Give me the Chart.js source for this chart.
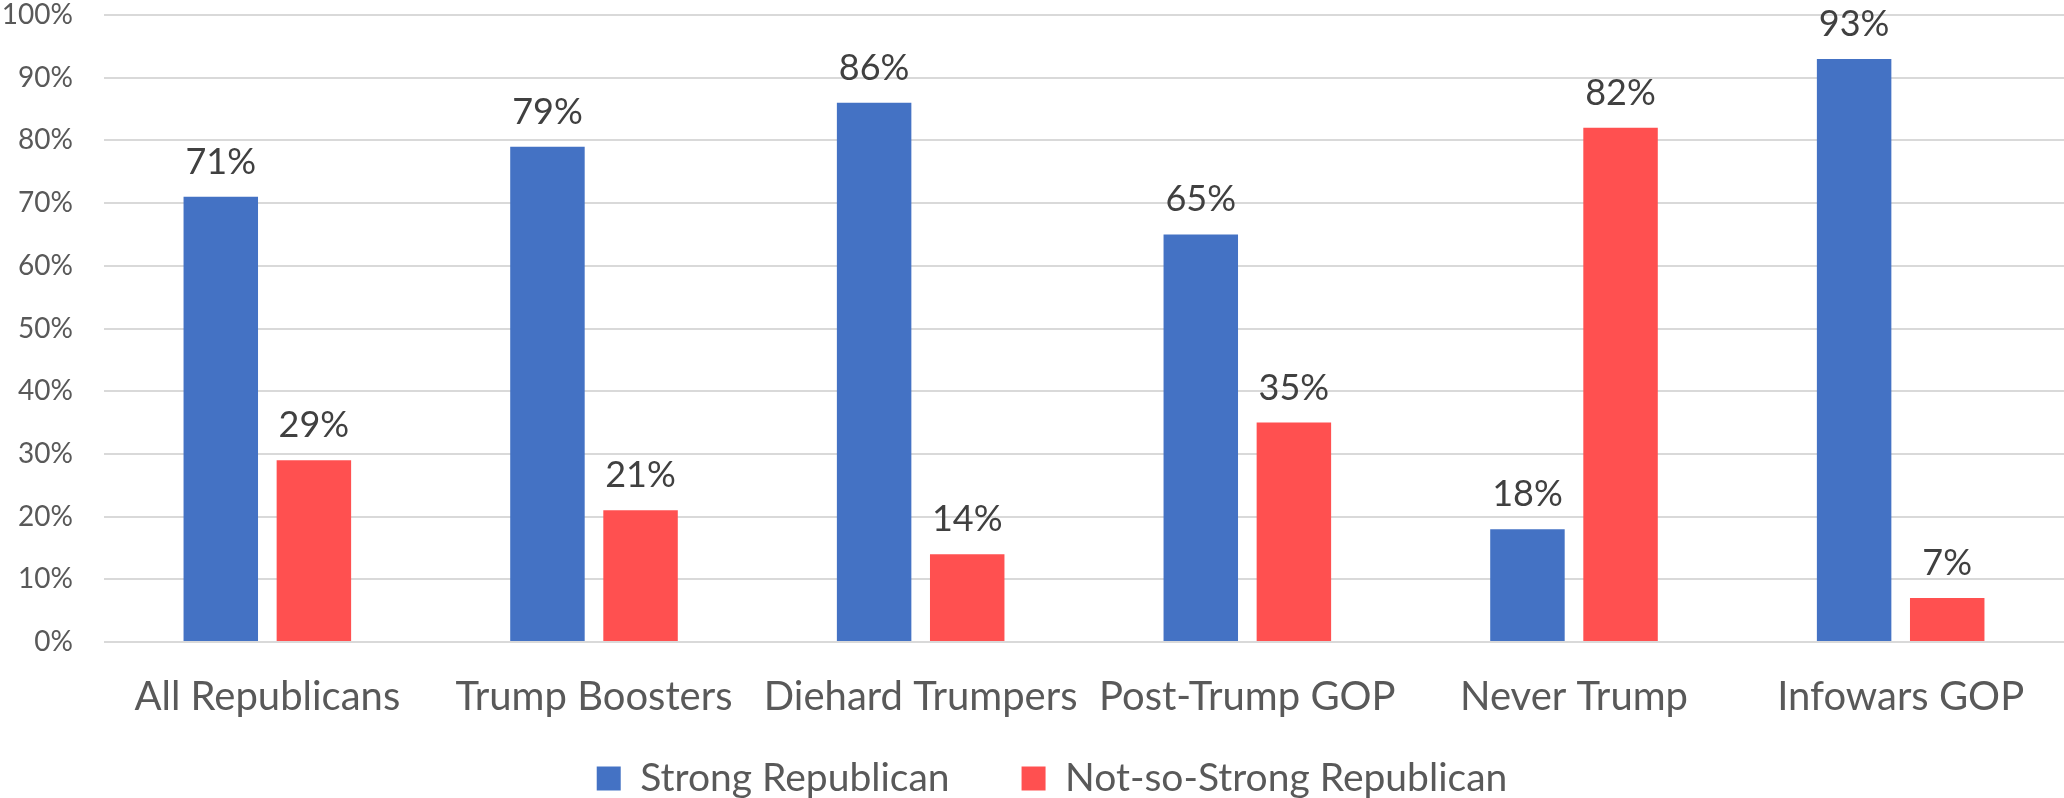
<!DOCTYPE html>
<html><head><meta charset="utf-8">
<script src="https://cdn.jsdelivr.net/npm/chart.js@4/dist/chart.umd.min.js"></script>
<style>html,body{margin:0;padding:0;background:#fff;overflow:hidden}</style>
</head><body>
<canvas id="c" width="2064" height="798"></canvas>
<script>
const categories = ['All Republicans','Trump Boosters','Diehard Trumpers','Post-Trump GOP','Never Trump','Infowars GOP'];
const strongValues = [71, 79, 86, 65, 18, 93];
const notSoStrongValues = [29, 21, 14, 35, 82, 7];
const seriesNames = ['Strong Republican', 'Not-so-Strong Republican'];
const yTickValues = [0, 10, 20, 30, 40, 50, 60, 70, 80, 90, 100];

const FONT = 'Lato';
const valueLabels = {
  id: 'valueLabels',
  afterDatasetsDraw(chart) {
    const ctx = chart.ctx;
    ctx.save();
    ctx.font = '36px ' + FONT;
    ctx.fillStyle = '#404040';
    ctx.textAlign = 'center';
    ctx.textBaseline = 'alphabetic';
    chart.data.datasets.forEach((ds, i) => {
      chart.getDatasetMeta(i).data.forEach((bar, j) => {
        ctx.fillText(ds.data[j] + '%', bar.x, bar.y - 23);
      });
    });
    ctx.restore();
  }
};
const legendShift = {
  id: 'legendShift',
  afterLayout(chart) {
    if (chart.legend) { chart.legend.left += 20; chart.legend.right += 20; }
  }
};

new Chart(document.getElementById('c'), {
  type: 'bar',
  data: {
    labels: categories,
    datasets: [
      { label: seriesNames[0], data: strongValues, backgroundColor: '#4472C4', categoryPercentage: 0.57, barPercentage: 0.8 },
      { label: seriesNames[1], data: notSoStrongValues, backgroundColor: '#FF5050', categoryPercentage: 0.57, barPercentage: 0.8 }
    ]
  },
  options: {
    responsive: false,
    animation: false,
    devicePixelRatio: 1,
    layout: { padding: { top: 15, right: 0, bottom: 0, left: 0 } },
    plugins: {
      tooltip: { enabled: false },
      legend: {
        position: 'bottom',
        maxHeight: 111,
        labels: {
          font: { family: FONT, size: 39 },
          color: '#595959',
          boxWidth: 24,
          boxHeight: 24,
          padding: 72
        }
      }
    },
    scales: {
      x: {
        grid: { display: false },
        border: { display: false },
        ticks: { font: { family: FONT, size: 40 }, color: '#595959', padding: 23 },
        afterFit: s => { s.height = 45; s._computeLabelArea = () => undefined; }
      },
      y: {
        min: 0,
        max: 100,
        afterBuildTicks: s => { s.ticks = yTickValues.map(v => ({ value: v })); },
        ticks: { font: { family: FONT, size: 28 }, color: '#595959', padding: 31, callback: v => v + '%' },
        grid: { color: '#d9d9d9', lineWidth: 2, drawTicks: false },
        border: { display: false },
        afterFit: s => { s.width = 104; s.paddingTop = 0; s.paddingBottom = 0; }
      }
    }
  },
  plugins: [valueLabels, legendShift]
});
</script>
</body></html>
